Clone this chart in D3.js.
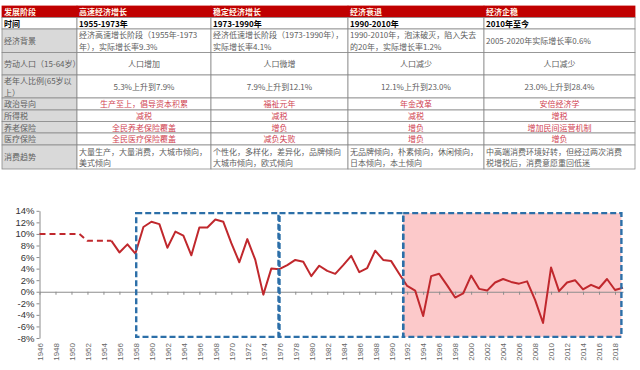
<!DOCTYPE html>
<html>
<head>
<meta charset="utf-8">
<script src="https://cdn.jsdelivr.net/npm/d3@7"></script>
<style>
  body { margin: 0; background: #fff; }
  svg { display: block; }
  .cell-text { font-family: "Noto Sans CJK SC", sans-serif; font-size: 8px; }
  .axis text { font-family: "Liberation Sans", Arial, sans-serif; }
</style>
</head>
<body>
<div id="chart"></div>
<script>
// ---- table content ----
const stageNames = ["高速经济增长", "稳定经济增长", "经济衰退", "经济企稳"];
const stagePeriods = ["1955-1973年", "1973-1990年", "1990-2010年", "2010年至今"];
const econBackground = [
  "经济高速增长阶段（1955年-1973\n年），实际增长率9.3%",
  "经济低速增长阶段（1973-1990年），\n实际增长率4.1%",
  "1990-2010年，泡沫破灭，陷入失去\n的20年，实际增长率1.2%",
  "2005-2020年实际增长率0.6%"
];
const laborForce = ["人口增加", "人口微增", "人口减少", "人口减少"];
const elderlyShare = ["5.3%上升到7.9%", "7.9%上升到12.1%", "12.1%上升到23.0%", "23.0%上升到28.4%"];
const politics = ["生产至上，倡导资本积累", "福祉元年", "年金改革", "安倍经济学"];
const incomeTax = ["减税", "减税", "减税", "增税"];
const pension = ["全民养老保险覆盖", "增负", "增负", "增加民间运营机制"];
const medical = ["全民医疗保险覆盖", "减负失败", "增负", "增负"];
const consumption = [
  "大量生产，大量消费，大城市倾向，\n美式倾向",
  "个性化，多样化，差异化，品牌倾向\n大城市倾向，欧式倾向",
  "无品牌倾向，朴素倾向，休闲倾向，\n日本倾向，本土倾向",
  "中高端消费环境好转，但经过两次消费\n税增税后，消费意愿重回低迷"
];

// ---- chart data: real GDP growth (%) ----
const estYears = [1946, 1947, 1948, 1949, 1950, 1951, 1952, 1953, 1954, 1955];
const estGrowth = [10, 10, 10, 10, 10, 10, 8.8, 8.8, 8.8, 8.8];

const years = [1955, 1956, 1957, 1958, 1959, 1960, 1961, 1962, 1963, 1964,
  1965, 1966, 1967, 1968, 1969, 1970, 1971, 1972, 1973, 1974,
  1975, 1976, 1977, 1978, 1979, 1980, 1981, 1982, 1983, 1984,
  1985, 1986, 1987, 1988, 1989, 1990, 1991, 1992, 1993, 1994,
  1995, 1996, 1997, 1998, 1999, 2000, 2001, 2002, 2003, 2004,
  2005, 2006, 2007, 2008, 2009, 2010, 2011, 2012, 2013, 2014,
  2015, 2016, 2017, 2018, 2019];
const growth = [8.8, 6.8, 8.2, 6.6, 11.2, 12.1, 11.7, 7.6, 10.4, 9.7,
  6.3, 11.1, 11.1, 12.5, 12.1, 8.4, 5.1, 9.1, 5.5, -0.5,
  4.0, 3.9, 4.6, 5.5, 5.2, 2.7, 4.5, 3.6, 3.1, 4.6,
  6.2, 3.4, 4.1, 7.1, 5.5, 5.3, 3.1, 1.0, 0.2, -4.2,
  2.7, 3.1, 1.1, -1.0, -0.3, 2.8, 0.5, 0.2, 1.6, 2.2,
  1.7, 1.4, 1.8, -1.4, -5.4, 4.2, 0.1, 1.6, 2.0, 0.4,
  1.2, 0.6, 2.2, 0.3, 0.7];

const yTicks = [-8, -6, -4, -2, 0, 2, 4, 6, 8, 10, 12, 14];
const xTicks = [1946, 1948, 1950, 1952, 1954, 1956, 1958, 1960, 1962, 1964,
  1966, 1968, 1970, 1972, 1974, 1976, 1978, 1980, 1982, 1984,
  1986, 1988, 1990, 1992, 1994, 1996, 1998, 2000, 2002, 2004,
  2006, 2008, 2010, 2012, 2014, 2016, 2018];

// stage boxes (start year, end year)
const boxStarts = [1958.1, 1975.9, 1991.5];
const boxEnds = [1975.9, 1991.5, 2018.8];

const width = 640, height = 370;

const svg = d3.select("#chart")
  .append("svg")
  .attr("width", width)
  .attr("height", height);

// ================= table =================
const rowEdges = [6, 17.5, 29, 52.5, 75, 98, 110, 121.5, 133, 145, 169];
const colEdges = [2, 77, 211, 348, 484, 635];

const rows = [
  { label: "发展阶段", cells: stageNames, kind: "header" },
  { label: "时间", cells: stagePeriods, kind: "period" },
  { label: "经济背景", cells: econBackground, kind: "left" },
  { label: "劳动人口（15-64岁）", cells: laborForce, kind: "center" },
  { label: "老年人比例(65岁以\n上）", cells: elderlyShare, kind: "center" },
  { label: "政治导向", cells: politics, kind: "red" },
  { label: "所得税", cells: incomeTax, kind: "red" },
  { label: "养老保险", cells: pension, kind: "red" },
  { label: "医疗保险", cells: medical, kind: "red" },
  { label: "消费趋势", cells: consumption, kind: "left" }
];

const table = svg.append("g").attr("class", "table");

svg.append("defs")
  .selectAll("clipPath")
  .data(rows)
  .join("clipPath")
  .attr("id", (d, i) => "clip-row-" + i)
  .append("rect")
  .attr("x", colEdges[0])
  .attr("y", (d, i) => rowEdges[i])
  .attr("width", colEdges[1] - colEdges[0] - 1)
  .attr("height", (d, i) => rowEdges[i + 1] - rowEdges[i]);

rows.forEach(function (row, i) {
  const y0 = rowEdges[i], y1 = rowEdges[i + 1];
  const cellsAll = [row.label].concat(row.cells);

  cellsAll.forEach(function (txt, j) {
    const x0 = colEdges[j], x1 = colEdges[j + 1];
    let fill = "#fff";
    if (row.kind === "header") fill = "#c00000";
    else if (j === 0 && row.kind !== "period") fill = "#d9d9d9";

    table.append("rect")
      .attr("x", x0)
      .attr("y", y0)
      .attr("width", x1 - x0)
      .attr("height", y1 - y0)
      .attr("fill", fill)
      .attr("stroke", row.kind === "header" ? "#c00000" : "#8a8a8a")
      .attr("stroke-width", 0.8);

    const lines = txt.split("\n");
    let color = "#606060", weight = "normal", anchor = "middle", tx = (x0 + x1) / 2;
    if (row.kind === "header") { color = "#fff6e8"; weight = "bold"; anchor = "start"; tx = x0 + 2; }
    else if (row.kind === "period") { color = "#000"; weight = "bold"; anchor = "start"; tx = x0 + 2; }
    else if (j === 0 || row.kind === "left") { anchor = "start"; tx = x0 + 2; }
    if (row.kind === "red" && j > 0) color = "#d04452";

    const cy = (y0 + y1) / 2 + 0.5;
    const lh = 11.4;
    const t = table.append("text")
      .attr("class", "cell-text")
      .attr("fill", color)
      .attr("font-weight", weight)
      .attr("text-anchor", anchor);
    if (j === 0) t.attr("clip-path", "url(#clip-row-" + i + ")");

    t.selectAll("tspan")
      .data(lines)
      .join("tspan")
      .attr("x", tx)
      .attr("y", (d, k) => cy + (k - (lines.length - 1) / 2) * lh)
      .attr("dy", "0.35em")
      .text(d => d);
  });
});

// ================= line chart =================
const x = d3.scaleLinear().domain([1946, 2019]).range([39.5, 623]);
const y = d3.scaleLinear().domain([-8, 14]).range([338, 210.8]);

// shaded stage (last box)
svg.append("rect")
  .attr("x", x(boxStarts[2]))
  .attr("y", y(13.6))
  .attr("width", x(boxEnds[2]) - x(boxStarts[2]))
  .attr("height", y(-7.8) - y(13.6))
  .attr("fill", "#fcc9ca");

// y axis
const yAxis = svg.append("g")
  .attr("class", "axis")
  .attr("transform", `translate(${x(1946)},0)`)
  .call(d3.axisLeft(y).tickValues(yTicks).tickSize(3).tickSizeOuter(0).tickFormat(d => d + "%"));
yAxis.select(".domain").attr("stroke", "#8c8c8c");
yAxis.selectAll(".tick line").attr("stroke", "#8c8c8c");
yAxis.selectAll(".tick text").attr("font-size", 9.5).attr("fill", "#333").attr("x", -5);

// zero line with tick marks
const zeroAxis = svg.append("g")
  .attr("class", "axis")
  .attr("transform", `translate(0,${y(0)})`)
  .call(d3.axisBottom(x).tickValues(xTicks).tickSize(3).tickSizeOuter(0).tickFormat(""));
zeroAxis.select(".domain").attr("stroke", "#8c8c8c");
zeroAxis.selectAll(".tick line").attr("stroke", "#8c8c8c");

// year labels below plot
const xLabels = svg.append("g")
  .attr("class", "axis")
  .attr("transform", `translate(0,${y(-8) + 5})`)
  .call(d3.axisBottom(x).tickValues(xTicks).tickSize(0).tickFormat(d3.format("d")));
xLabels.select(".domain").remove();
xLabels.selectAll(".tick text")
  .attr("font-size", 8)
  .attr("fill", "#666")
  .attr("transform", "rotate(-90)")
  .attr("text-anchor", "end")
  .attr("x", 0)
  .attr("y", 0)
  .attr("dy", "0.35em");

// estimated early growth (dashed)
const line = d3.line().x(d => x(d[0])).y(d => y(d[1]));

svg.append("path")
  .datum(estYears.map((yr, i) => [yr, estGrowth[i]]))
  .attr("d", line)
  .attr("fill", "none")
  .attr("stroke", "#c0282d")
  .attr("stroke-width", 2)
  .attr("stroke-dasharray", "6,4");

svg.append("path")
  .datum(years.map((yr, i) => [yr, growth[i]]))
  .attr("d", line)
  .attr("fill", "none")
  .attr("stroke", "#c0282d")
  .attr("stroke-width", 2)
  .attr("stroke-linejoin", "round");

// stage boxes (blue dashed)
svg.selectAll(".stage-box")
  .data(boxStarts)
  .join("rect")
  .attr("class", "stage-box")
  .attr("x", (d, i) => x(d) + (i === 1 ? 1 : 0))
  .attr("y", y(13.6))
  .attr("width", (d, i) => x(boxEnds[i]) - x(d) - (i === 1 ? 1 : 0))
  .attr("height", y(-7.8) - y(13.6))
  .attr("fill", "none")
  .attr("stroke", "#2c6fa8")
  .attr("stroke-width", 2.4)
  .attr("stroke-dasharray", "6,3");
</script>
</body>
</html>
